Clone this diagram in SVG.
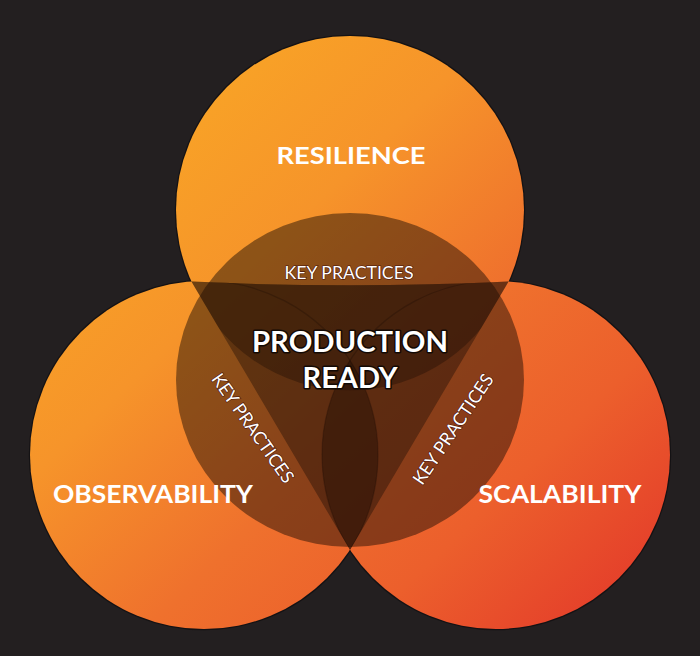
<svg xmlns="http://www.w3.org/2000/svg" width="700" height="656" viewBox="0 0 700 656">
  <defs>
    <linearGradient id="og" gradientUnits="userSpaceOnUse" x1="120" y1="80" x2="640" y2="620">
      <stop offset="0" stop-color="#F9A825"/>
      <stop offset="0.3" stop-color="#F6942A"/>
      <stop offset="0.55" stop-color="#EF712D"/>
      <stop offset="0.75" stop-color="#EC5F2C"/>
      <stop offset="1" stop-color="#E3392A"/>
    </linearGradient>
    <clipPath id="tri">
      <path d="M191.4,281.5 Q350,289 508.6,281.5 L350,550 Z"/>
    </clipPath>
    <style>
      .edge { fill: #141214; stroke: #141214; stroke-width: 2.4; }
      .circ { fill: url(#og); }
      .title { font-family: Lato, "Open Sans", "Liberation Sans", sans-serif; font-weight: 700; fill: #ffffff; text-anchor: middle; }
      .kp { font-family: Lato, "Open Sans", "Liberation Sans", sans-serif; font-weight: 400; font-size: 18px; fill: #ffffff; text-anchor: middle; stroke: #4a140c; stroke-width: 1.2; paint-order: stroke; }
      .core { font-family: Lato, "Open Sans", "Liberation Sans", sans-serif; font-weight: 700; font-size: 28px; fill: #ffffff; text-anchor: middle; stroke: #140a05; stroke-width: 3; paint-order: stroke; stroke-linejoin: round; }
      .shade { fill: #1c0d05; }
      .arc { fill: none; stroke: #120803; stroke-width: 1.2; opacity: 0.25; }
    </style>
  </defs>

  <rect x="0" y="0" width="700" height="656" fill="#231f20"/>

  <g id="circle-edges">
    <circle class="edge" cx="350" cy="210" r="174"/>
    <circle class="edge" cx="204" cy="455" r="174"/>
    <circle class="edge" cx="496" cy="455" r="174"/>
  </g>
  <g id="circles">
    <circle id="circle-resilience" class="circ" cx="350" cy="210" r="174"/>
    <circle id="circle-observability" class="circ" cx="204" cy="455" r="174"/>
    <circle id="circle-scalability" class="circ" cx="496" cy="455" r="174"/>
  </g>

  <g id="overlaps">
    <ellipse class="shade" cx="350" cy="380" rx="174" ry="167" opacity="0.48"/>
    <path class="shade" d="M191.4,281.5 Q350,289 508.6,281.5 L350,550 Z" opacity="0.4"/>
    <g clip-path="url(#tri)">
      <path class="shade" d="M191.4,281.5 A170,170 0 0 0 508.6,281.5 Z" opacity="0.38"/>
      <path class="shade" d="M350,360.3 A174,174 0 0 1 350,549.7 A174,174 0 0 1 350,360.3 Z" opacity="0.42"/>
      <path class="arc" d="M191.4,281.5 A174,174 0 0 1 350,549.7"/>
      <path class="arc" d="M508.6,281.5 A174,174 0 0 0 350,549.7"/>
    </g>
  </g>

  <g id="node-resilience">
    <text class="title" x="351" y="164" font-size="22" textLength="149" lengthAdjust="spacingAndGlyphs">RESILIENCE</text>
  </g>
  <g id="node-observability">
    <text class="title" x="153" y="503" font-size="24" textLength="200" lengthAdjust="spacingAndGlyphs">OBSERVABILITY</text>
  </g>
  <g id="node-scalability">
    <text class="title" x="560" y="503" font-size="24" textLength="163" lengthAdjust="spacingAndGlyphs">SCALABILITY</text>
  </g>

  <g id="overlap-labels">
    <text class="kp" x="349" y="279" textLength="129" lengthAdjust="spacingAndGlyphs">KEY PRACTICES</text>
    <text class="kp" transform="translate(253,428) rotate(55)" x="0" y="6.5" textLength="129" lengthAdjust="spacingAndGlyphs">KEY PRACTICES</text>
    <text class="kp" transform="translate(453,429) rotate(-56)" x="0" y="6.5" textLength="129" lengthAdjust="spacingAndGlyphs">KEY PRACTICES</text>
  </g>

  <g id="node-production-ready">
    <text class="core" x="350" y="352" textLength="196" lengthAdjust="spacingAndGlyphs">PRODUCTION</text>
    <text class="core" x="350" y="388" textLength="95" lengthAdjust="spacingAndGlyphs">READY</text>
  </g>

  <g id="connectors"></g>
</svg>
